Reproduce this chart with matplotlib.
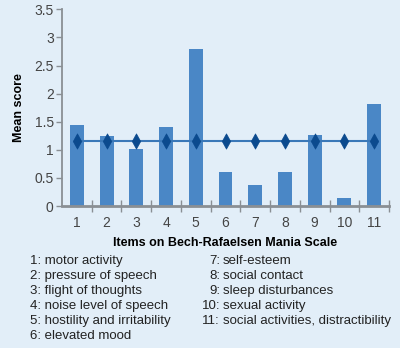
import matplotlib.pyplot as plt
import numpy as np
from matplotlib.path import Path

plt.rcParams['font.family'] = ['Liberation Sans', 'DejaVu Sans']

items = list(range(1, 12))
mean_scores = [1.45, 1.25, 1.01, 1.40, 2.80, 0.60, 0.38, 0.61, 1.27, 0.15, 1.82]
overall_mean = 1.15
item_names = [
    "motor activity",
    "pressure of speech",
    "flight of thoughts",
    "noise level of speech",
    "hostility and irritability",
    "elevated mood",
    "self-esteem",
    "social contact",
    "sleep disturbances",
    "sexual activity",
    "social activities, distractibility",
]
yticks = [0, 0.5, 1, 1.5, 2, 2.5, 3, 3.5]
ytick_labels = ["0", "0.5", "1", "1.5", "2", "2.5", "3", "3.5"]

# narrow diamond marker
diamond = Path([(0, 1), (0.55, 0), (0, -1), (-0.55, 0), (0, 1)],
               [Path.MOVETO, Path.LINETO, Path.LINETO, Path.LINETO, Path.CLOSEPOLY])

bg = "#e2eef8"
fig = plt.figure(figsize=(4.0, 3.48), dpi=100, facecolor=bg)
ax = fig.add_axes([0.155, 0.408, 0.8175, 0.565], facecolor=bg)

ax.bar(items, mean_scores, width=0.47, color="#4a87c6", zorder=2)
ax.plot(items, [overall_mean] * len(items), color="#3a78b8", lw=1.5,
        marker=diamond, ms=11, mfc="#0b4a8e", mec="#0b4a8e", mew=0.5, zorder=3)

ax.set_xlim(0.5, 11.5)
ax.set_ylim(0, 3.5)
ax.set_yticks(yticks)
ax.set_yticklabels(ytick_labels)
ax.set_xticks(np.arange(1.5, 12, 1))
ax.set_xticklabels([])
ax.set_xticks(items, minor=True)
ax.set_xticklabels([str(i) for i in items], minor=True)

for s in ["top", "right"]:
    ax.spines[s].set_visible(False)
for s in ["left", "bottom"]:
    ax.spines[s].set_color("#8a8f94")
    ax.spines[s].set_linewidth(1.3)
ax.spines["bottom"].set_linewidth(2)

ax.tick_params(axis="y", direction="out", length=4, width=1, color="#8a8f94",
               labelsize=10, labelcolor="#444444", pad=2)
ax.tick_params(axis="x", which="major", direction="inout", length=8, width=1,
               color="#8a8f94")
ax.tick_params(axis="x", which="minor", length=0, labelsize=10,
               labelcolor="#444444", pad=7.5)

ax.set_ylabel("Mean score", fontsize=9, fontweight="bold", labelpad=7)
ax.set_xlabel("Items on Bech-Rafaelsen Mania Scale", fontsize=9,
              fontweight="bold", labelpad=5)

# item key below the chart
fs = 9.5
row_y = [261, 276, 291, 306, 321, 336]
for i, name in enumerate(item_names):
    if i < 6:
        fig.text(30 / 400, 1 - row_y[i] / 348, f"{i + 1}: {name}",
                 fontsize=fs, color="#222222", va="center", ha="left")
    else:
        y = 1 - row_y[i - 6] / 348
        fig.text(220 / 400, y, f"{i + 1}:", fontsize=fs, color="#222222",
                 va="center", ha="right")
        fig.text(223 / 400, y, name, fontsize=fs, color="#222222",
                 va="center", ha="left")

fig.savefig("out.png", dpi=100, facecolor=bg)
